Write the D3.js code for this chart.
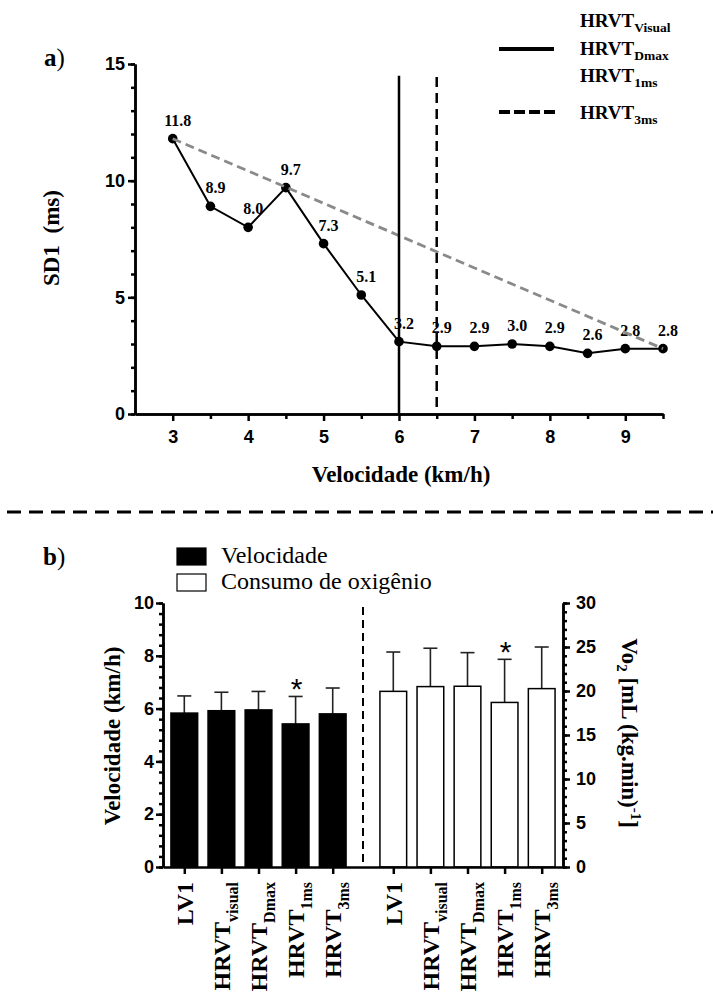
<!DOCTYPE html>
<html>
<head>
<meta charset="utf-8">
<script src="https://cdn.jsdelivr.net/npm/d3@7"></script>
<style>body{margin:0;background:#fff}</style>
</head>
<body>
<div id="chart"></div>
<script>
// panel a data
var speeds = [3, 3.5, 4, 4.5, 5, 5.5, 6, 6.5, 7, 7.5, 8, 8.5, 9, 9.5];
var sd1 = [11.8, 8.9, 8.0, 9.7, 7.3, 5.1, 3.1, 2.9, 2.9, 3.0, 2.9, 2.6, 2.8, 2.8];
var sd1Labels = ["11.8", "8.9", "8.0", "9.7", "7.3", "5.1", "3.2", "2.9", "2.9", "3.0", "2.9", "2.6", "2.8", "2.8"];
var dmaxSpeed = 6, ms3Speed = 6.5;
var legendSubs = ["Visual", "Dmax", "1ms", "3ms"];
var xTicksA = [3, 4, 5, 6, 7, 8, 9];
var yTicksA = [0, 5, 10, 15];

// panel b data
var groupNames = ["Velocidade", "Consumo de oxigênio"];
var catMain = ["LV1", "HRVT", "HRVT", "HRVT", "HRVT"];
var catSub = ["", "visual", "Dmax", "1ms", "3ms"];
var velMean = [5.83, 5.92, 5.95, 5.42, 5.80];
var velSd = [0.65, 0.70, 0.70, 1.04, 0.98];
var vo2Mean = [19.96, 20.5, 20.54, 18.7, 20.27];
var vo2Sd = [4.47, 4.36, 3.82, 4.9, 4.73];
var starred = [false, false, false, true, false];

var serif = "'Liberation Serif','Times New Roman',serif";
var sans = "'Liberation Sans',Arial,sans-serif";

var svg = d3.select('#chart').append('svg').attr('width', 713).attr('height', 1000);

function styleAxis(g, size){
    g.selectAll('path,line').attr('stroke', '#000').attr('stroke-width', 2.5);
    g.selectAll('text').attr('font-family', sans).attr('font-weight', 'bold')
        .attr('font-size', size).attr('fill', '#000');
}

// ---------- panel a ----------
var xA = d3.scaleLinear().domain([2.5, 9.5]).range([135, 663]);
var yA = d3.scaleLinear().domain([0, 15]).range([414, 64]);
var pts = speeds.map(function(s, i){ return {x: s, y: sd1[i], label: sd1Labels[i]}; });

svg.append('path').datum(pts)
    .attr('d', d3.line().x(function(d){return xA(d.x);}).y(function(d){return yA(d.y);}))
    .attr('fill', 'none').attr('stroke', '#000').attr('stroke-width', 2);

svg.selectAll('circle.pt').data(pts).enter().append('circle')
    .attr('cx', function(d){return xA(d.x);})
    .attr('cy', function(d){return yA(d.y);})
    .attr('r', 4.8).attr('fill', '#000');

svg.selectAll('text.val').data(pts).enter().append('text')
    .attr('x', function(d){return xA(d.x) + 5;})
    .attr('y', function(d){return yA(d.y) - 13;})
    .attr('text-anchor', 'middle')
    .attr('font-family', serif).attr('font-weight', 'bold').attr('font-size', 16)
    .text(function(d){return d.label;});

// gray dashed line from first to last point
var first = pts[0], last = pts[pts.length - 1];
svg.append('line')
    .attr('x1', xA(first.x)).attr('y1', yA(first.y))
    .attr('x2', xA(last.x)).attr('y2', yA(last.y))
    .attr('stroke', '#8a8a8a').attr('stroke-width', 2.8).attr('stroke-dasharray', '9,5');

// threshold lines
svg.append('line').attr('x1', xA(dmaxSpeed)).attr('x2', xA(dmaxSpeed))
    .attr('y1', yA(0)).attr('y2', yA(14.5))
    .attr('stroke', '#000').attr('stroke-width', 2.5);
svg.append('line').attr('x1', xA(ms3Speed)).attr('x2', xA(ms3Speed))
    .attr('y1', yA(0.3)).attr('y2', yA(14.5))
    .attr('stroke', '#000').attr('stroke-width', 2.5).attr('stroke-dasharray', '10,6');

// axes a
svg.append('g').attr('transform', 'translate(0,414)')
    .call(d3.axisBottom(xA).tickValues(d3.range(3.5, 9.6, 1)).tickSize(5).tickSizeOuter(0).tickFormat(''))
    .call(styleAxis, 18);
svg.append('g').attr('transform', 'translate(0,414)')
    .call(d3.axisBottom(xA).tickValues(xTicksA).tickSize(7).tickSizeOuter(0).tickPadding(9).tickFormat(d3.format('d')))
    .call(styleAxis, 18);
svg.append('g').attr('transform', 'translate(135,0)')
    .call(d3.axisLeft(yA).tickValues(d3.range(0, 15.1, 1)).tickSize(4).tickSizeOuter(0).tickFormat(''))
    .call(styleAxis, 18);
svg.append('g').attr('transform', 'translate(135,0)')
    .call(d3.axisLeft(yA).tickValues(yTicksA).tickSize(7).tickSizeOuter(0).tickPadding(3).tickFormat(d3.format('d')))
    .call(styleAxis, 18);

svg.append('text').attr('transform', 'translate(51,238) rotate(-90)').attr('dy', '0.35em')
    .attr('text-anchor', 'middle').attr('font-family', serif).attr('font-weight', 'bold')
    .attr('font-size', 23).style('white-space', 'pre').text('SD1  (ms)');
svg.append('text').attr('x', 401).attr('y', 482).attr('text-anchor', 'middle')
    .attr('font-family', serif).attr('font-weight', 'bold').attr('font-size', 23)
    .text('Velocidade (km/h)');

var lblA = svg.append('text').attr('x', 44).attr('y', 66).attr('font-family', serif).attr('font-size', 25);
lblA.append('tspan').attr('font-weight', 'bold').text('a');
lblA.append('tspan').text(')');

// legend a
var legY = [27, 55, 82, 119];
legendSubs.forEach(function(s, i){
    var t = svg.append('text').attr('x', 580).attr('y', legY[i])
        .attr('font-family', serif).attr('font-weight', 'bold').attr('font-size', 19);
    t.append('tspan').text('HRVT');
    t.append('tspan').attr('font-size', 13.5).attr('dy', 5).text(s);
});
svg.append('line').attr('x1', 499).attr('x2', 554).attr('y1', 49).attr('y2', 49)
    .attr('stroke', '#000').attr('stroke-width', 4);
svg.append('line').attr('x1', 499).attr('x2', 555).attr('y1', 112).attr('y2', 112)
    .attr('stroke', '#000').attr('stroke-width', 4).attr('stroke-dasharray', '11,4');

// separator
svg.append('line').attr('x1', 7).attr('x2', 713).attr('y1', 512).attr('y2', 512)
    .attr('stroke', '#000').attr('stroke-width', 3).attr('stroke-dasharray', '14,8');

// ---------- panel b ----------
var gapShift = 5.633;
var xB = d3.scaleLinear().domain([-0.574, 10.207]).range([163, 563]);
var yL = d3.scaleLinear().domain([0, 10]).range([867, 603]);
var yR = d3.scaleLinear().domain([0, 30]).range([867, 603]);
var step = xB(1) - xB(0);
var bw = step * 0.72;

var bars = [];
catMain.forEach(function(c, i){
    bars.push({slot: i, mean: velMean[i], sd: velSd[i], y: yL, fill: '#000', star: starred[i], main: c, sub: catSub[i]});
});
catMain.forEach(function(c, i){
    bars.push({slot: i + gapShift, mean: vo2Mean[i], sd: vo2Sd[i], y: yR, fill: '#fff', star: starred[i], main: c, sub: catSub[i]});
});

// error bars (upper only)
bars.forEach(function(d){
    var cx = xB(d.slot), top = d.y(d.mean + d.sd);
    svg.append('line').attr('x1', cx).attr('x2', cx).attr('y1', d.y(d.mean)).attr('y2', top)
        .attr('stroke', '#222').attr('stroke-width', 1.6);
    svg.append('line').attr('x1', cx - 7).attr('x2', cx + 7).attr('y1', top).attr('y2', top)
        .attr('stroke', '#222').attr('stroke-width', 1.6);
    if (d.star) {
        svg.append('text').attr('x', cx + 1).attr('y', top + 3).attr('text-anchor', 'middle')
            .attr('font-family', sans).attr('font-size', 30).text('*');
    }
});

svg.selectAll('rect.bar').data(bars).enter().append('rect')
    .attr('x', function(d){return xB(d.slot) - bw / 2;})
    .attr('y', function(d){return d.y(d.mean);})
    .attr('width', bw)
    .attr('height', function(d){return 867 - d.y(d.mean);})
    .attr('fill', function(d){return d.fill;})
    .attr('stroke', '#000').attr('stroke-width', 1.5);

// dashed separator between groups
var sepX = xB((4 + gapShift) / 2);
svg.append('line').attr('x1', sepX).attr('x2', sepX).attr('y1', 607).attr('y2', 867)
    .attr('stroke', '#000').attr('stroke-width', 2).attr('stroke-dasharray', '8,5');

// axes b
svg.append('g').attr('transform', 'translate(0,867)')
    .call(d3.axisBottom(xB).tickValues(bars.map(function(d){return d.slot;})).tickSize(7).tickSizeOuter(0).tickFormat(''))
    .call(styleAxis, 18);
svg.append('g').attr('transform', 'translate(163,0)')
    .call(d3.axisLeft(yL).tickValues(d3.range(0, 10.01, 0.4)).tickSize(4).tickSizeOuter(0).tickFormat(''))
    .call(styleAxis, 18);
svg.append('g').attr('transform', 'translate(163,0)')
    .call(d3.axisLeft(yL).tickValues(d3.range(0, 11, 2)).tickSize(7).tickSizeOuter(0).tickPadding(2))
    .call(styleAxis, 18);
svg.append('g').attr('transform', 'translate(563,0)')
    .call(d3.axisRight(yR).tickValues(d3.range(0, 31, 1)).tickSize(4).tickSizeOuter(0).tickFormat(''))
    .call(styleAxis, 18);
svg.append('g').attr('transform', 'translate(563,0)')
    .call(d3.axisRight(yR).tickValues(d3.range(0, 31, 5)).tickSize(7).tickSizeOuter(0).tickPadding(6))
    .call(styleAxis, 18);

// category labels
bars.forEach(function(d){
    var t = svg.append('text')
        .attr('transform', 'translate(' + xB(d.slot) + ',882) rotate(-90)')
        .attr('text-anchor', 'end').attr('dy', 8.5)
        .attr('font-family', serif).attr('font-weight', 'bold').attr('font-size', 24);
    t.append('tspan').text(d.main);
    if (d.sub) t.append('tspan').attr('font-size', 16).attr('dy', 8).text(d.sub);
});

// axis titles b
svg.append('text').attr('transform', 'translate(112,736) rotate(-90)').attr('dy', '0.35em')
    .attr('text-anchor', 'middle').attr('font-family', serif).attr('font-weight', 'bold')
    .attr('font-size', 23).text('Velocidade (km/h)');
var rt = svg.append('text').attr('transform', 'translate(630,733) rotate(90)').attr('dy', '0.35em')
    .attr('text-anchor', 'middle').attr('font-family', serif).attr('font-weight', 'bold').attr('font-size', 23);
rt.append('tspan').text('Vo');
rt.append('tspan').attr('font-size', 15).attr('dy', 5).text('2');
rt.append('tspan').attr('dy', -5).text(' [mL (kg.min)');
rt.append('tspan').attr('font-size', 15).attr('dy', -9).text('-1');
rt.append('tspan').attr('dy', 9).text(']');

var lblB = svg.append('text').attr('x', 43).attr('y', 565).attr('font-family', serif).attr('font-size', 25);
lblB.append('tspan').attr('font-weight', 'bold').text('b');
lblB.append('tspan').text(')');

// legend b
var legB = svg.append('g');
groupNames.forEach(function(n, i){
    legB.append('rect').attr('x', 177).attr('y', 548 + i * 26).attr('width', 29).attr('height', 17)
        .attr('fill', i === 0 ? '#000' : '#fff').attr('stroke', '#000').attr('stroke-width', 1.2);
    legB.append('text').attr('x', 221).attr('y', 563 + i * 26)
        .attr('font-family', serif).attr('font-size', 24).text(n);
});
</script>
</body>
</html>
